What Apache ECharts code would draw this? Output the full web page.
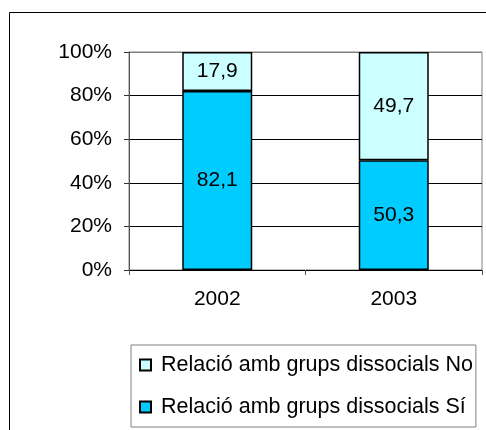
<!DOCTYPE html>
<html>
<head>
<meta charset="utf-8">
<script src="https://cdn.jsdelivr.net/npm/echarts@6/dist/echarts.min.js"></script>
<style>
html,body{margin:0;padding:0;background:#fff;}
#c{width:486px;height:430px;}
</style>
</head>
<body>
<div id="c"></div>
<script>
var categories = ['2002', '2003'];
var seriesNames = ['Relació amb grups dissocials Sí', 'Relació amb grups dissocials No'];
var valuesSi = [82.1, 50.3];
var valuesNo = [17.9, 49.7];
var yTicks = [0, 20, 40, 60, 80, 100];

var FONT = "'Liberation Sans', Arial, sans-serif";
var chart = echarts.init(document.getElementById('c'), null, {renderer: 'canvas'});

function fmt(p) { return p.value.toFixed(1).replace('.', ','); }

chart.setOption({
  animation: false,
  backgroundColor: '#fff',
  graphic: [{
    type: 'rect',
    shape: {x: 9.5, y: 12.5, width: 600, height: 600},
    style: {fill: 'none', stroke: '#000', lineWidth: 1},
    silent: true,
    z: -10
  }],
  grid: {
    left: 129, top: 52, right: 4, bottom: 160,
    show: true, borderColor: '#808080', borderWidth: 1, backgroundColor: '#fff'
  },
  legend: {
    orient: 'vertical',
    left: 131, top: 345,
    data: [seriesNames[1], seriesNames[0]],
    icon: 'rect',
    itemWidth: 11, itemHeight: 11,
    itemGap: 20,
    padding: [9, 3, 9, 8],
    borderColor: '#808080', borderWidth: 1,
    backgroundColor: '#fff',
    textStyle: {fontFamily: FONT, fontSize: 21.5, color: '#000', padding: [0, 0, 0, 5]},
    selectedMode: false
  },
  xAxis: {
    type: 'category',
    data: categories,
    boundaryGap: true,
    axisLine: {lineStyle: {color: '#000', width: 1}},
    axisTick: {show: true, length: 5, interval: 0, lineStyle: {color: '#555'}},
    axisLabel: {fontFamily: FONT, fontSize: 21, color: '#000', margin: 19, interval: 0}
  },
  yAxis: {
    type: 'value',
    min: yTicks[0], max: yTicks[yTicks.length - 1], interval: 20,
    axisLine: {show: true, lineStyle: {color: '#555', width: 1}},
    axisTick: {show: true, length: 5, lineStyle: {color: '#333'}},
    axisLabel: {fontFamily: FONT, fontSize: 21, color: '#000', margin: 17, formatter: '{value}%'},
    splitLine: {show: true, lineStyle: {color: ['#000', '#000', '#000', '#000', '#000', '#808080'], width: 1}}
  },
  series: [
    {
      name: seriesNames[0], type: 'bar', stack: 's', data: valuesSi, barWidth: 70,
      itemStyle: {color: '#00CCFF', borderColor: '#000', borderWidth: 1.5},
      label: {show: true, position: 'inside', formatter: fmt, fontFamily: FONT, fontSize: 21, color: '#000'}
    },
    {
      name: seriesNames[1], type: 'bar', stack: 's', data: valuesNo, barWidth: 70,
      itemStyle: {color: '#CCFFFF', borderColor: '#000', borderWidth: 1.5},
      label: {show: true, position: 'inside', formatter: fmt, fontFamily: FONT, fontSize: 21, color: '#000'}
    }
  ]
});
</script>
</body>
</html>
